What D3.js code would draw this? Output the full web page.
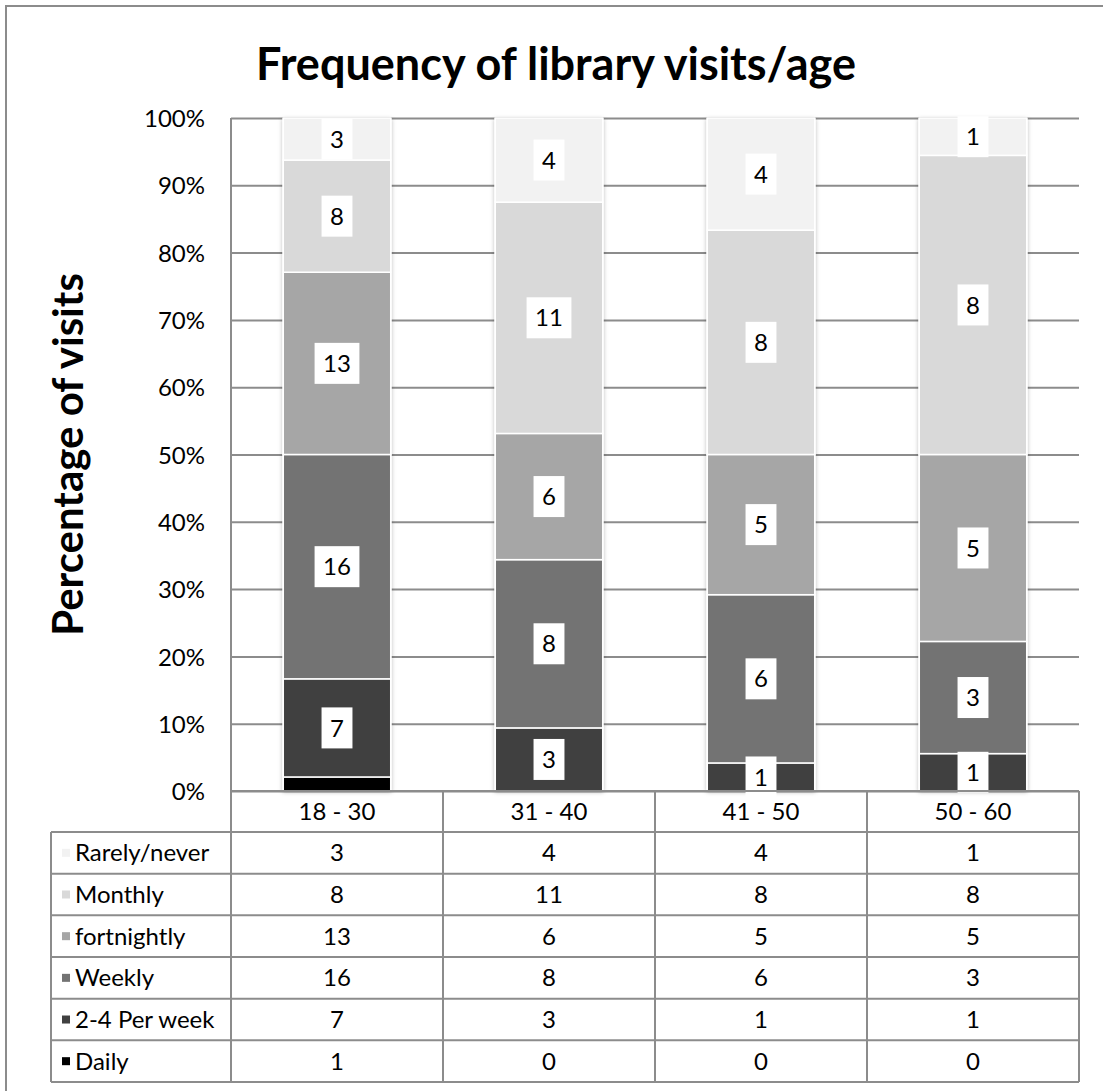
<!DOCTYPE html>
<html>
<head>
<meta charset="utf-8">
<script src="https://cdn.jsdelivr.net/npm/d3@7"></script>
<style>
  html, body { margin: 0; padding: 0; background: #fff; }
  svg { display: block; font-family: Lato, "Open Sans", sans-serif; }
</style>
</head>
<body>
<svg id="chart" width="1103" height="1091"></svg>
<script>
// Age groups along the x axis
const ageGroups = ["18 - 30", "31 - 40", "41 - 50", "50 - 60"];

// Visit frequencies (respondent counts) per age group
const seriesNames = ["Daily", "2-4 Per week", "Weekly", "fortnightly", "Monthly", "Rarely/never"];
const daily       = [1, 0, 0, 0];
const perWeek     = [7, 3, 1, 1];
const weekly      = [16, 8, 6, 3];
const fortnightly = [13, 6, 5, 5];
const monthly     = [8, 11, 8, 8];
const rarely      = [3, 4, 4, 1];

const seriesColors = ["#000000", "#404040", "#737373", "#a6a6a6", "#d9d9d9", "#f2f2f2"];
const yTicks = [0, 0.1, 0.2, 0.3, 0.4, 0.5, 0.6, 0.7, 0.8, 0.9, 1];

const seriesValues = [daily, perWeek, weekly, fortnightly, monthly, rarely];
const rows = ageGroups.map((g, i) => {
  const r = { group: g };
  seriesNames.forEach((s, k) => { r[s] = seriesValues[k][i]; });
  return r;
});

const svg = d3.select("#chart");
const plot = { left: 231, right: 1079, top: 118, bottom: 791 };
const table = { labelLeft: 51, headerH: 41, rowH: 41.67 };
const lineColor = "#8c8c8c";

// chart frame
svg.append("rect")
  .attr("x", 6).attr("y", 6).attr("width", 1300).attr("height", 1300)
  .attr("fill", "none").attr("stroke", lineColor).attr("stroke-width", 2);

// soft shadow behind bars
const defs = svg.append("defs");
const f = defs.append("filter").attr("id", "barShadow")
  .attr("x", "-10%").attr("y", "-5%").attr("width", "120%").attr("height", "110%");
f.append("feDropShadow").attr("dx", 0).attr("dy", 1).attr("stdDeviation", 2)
  .attr("flood-color", "#000").attr("flood-opacity", 0.3);

const x = d3.scaleBand().domain(ageGroups)
  .range([plot.left, plot.right]).paddingInner(0.486).paddingOuter(0.243);
const y = d3.scaleLinear().domain([0, 1]).range([plot.bottom, plot.top]);

// horizontal gridlines
svg.append("g")
  .attr("transform", `translate(${plot.left},0)`)
  .call(d3.axisLeft(y).tickValues(yTicks).tickSize(-(plot.right - plot.left)).tickFormat(""))
  .call(g => g.select(".domain").remove())
  .call(g => g.selectAll("line").attr("stroke", lineColor).attr("stroke-width", 2));

// y tick labels
svg.append("g")
  .attr("transform", `translate(${plot.left - 26},0)`)
  .call(d3.axisLeft(y).tickValues(yTicks).tickSize(0).tickPadding(0).tickFormat(d3.format(".0%")))
  .call(g => g.select(".domain").remove())
  .call(g => g.selectAll("text")
    .attr("font-family", "Lato, sans-serif").attr("font-size", 24).attr("fill", "#000")
    .attr("dy", "0.36em"));

// vertical axis line
svg.append("line")
  .attr("x1", plot.left).attr("x2", plot.left)
  .attr("y1", plot.top).attr("y2", plot.bottom)
  .attr("stroke", lineColor).attr("stroke-width", 2);

// stacked bars (100%)
const stack = d3.stack().keys(seriesNames).offset(d3.stackOffsetExpand);
const stacked = stack(rows);

const barShadows = svg.append("g").attr("filter", "url(#barShadow)");
barShadows.selectAll("rect").data(ageGroups).join("rect")
  .attr("x", d => x(d)).attr("width", x.bandwidth())
  .attr("y", y(1)).attr("height", y(0) - y(1))
  .attr("fill", "#fff");

const layers = svg.append("g").selectAll("g").data(stacked).join("g")
  .attr("fill", (d, i) => seriesColors[i]);

layers.selectAll("rect").data(d => d.map(p => ({ p, key: d.key })))
  .join("rect")
  .attr("x", d => x(d.p.data.group) + 0.75)
  .attr("width", x.bandwidth() - 1.5)
  .attr("y", d => y(d.p[1]))
  .attr("height", d => Math.max(0, y(d.p[0]) - y(d.p[1])))
  .attr("stroke", "#ffffff").attr("stroke-width", 1.5);

// data labels in white boxes (the Daily series carries none)
const labelLayer = svg.append("g");
stacked.forEach((layer) => {
  if (layer.key === "Daily") return;
  layer.forEach(p => {
    const v = p.data[layer.key];
    if (!v) return;
    const cx = x(p.data.group) + x.bandwidth() / 2;
    const cy = (y(p[0]) + y(p[1])) / 2;
    const g = labelLayer.append("g");
    const box = g.append("rect").attr("fill", "#fff");
    const t = g.append("text")
      .attr("x", cx).attr("y", cy).attr("dy", "0.36em")
      .attr("text-anchor", "middle")
      .attr("font-size", 24).attr("fill", "#000")
      .text(v);
    const w = t.node().getComputedTextLength() + 17;
    box.attr("x", cx - w / 2).attr("y", cy - 20.5).attr("width", w).attr("height", 41);
  });
});

// data table under the plot
const tableTop = plot.bottom;
const firstRowTop = tableTop + table.headerH;
const tableRows = seriesNames.slice().reverse();
const tableBottom = firstRowTop + tableRows.length * table.rowH;
const tg = svg.append("g");

// header cells (age groups)
tg.selectAll("text.hdr").data(ageGroups).join("text")
  .attr("class", "hdr")
  .attr("x", d => x(d) + x.bandwidth() / 2)
  .attr("y", tableTop + table.headerH / 2).attr("dy", "0.36em")
  .attr("text-anchor", "middle").attr("font-size", 24).attr("fill", "#000")
  .text(d => d);

// grid of the table
const colEdges = ageGroups.map(g => x(g) - x.step() * x.paddingOuter()).concat([plot.right]);
colEdges.forEach((cx) => {
  tg.append("line")
    .attr("x1", cx).attr("x2", cx)
    .attr("y1", tableTop).attr("y2", tableBottom)
    .attr("stroke", lineColor).attr("stroke-width", 2);
});
tg.append("line")
  .attr("x1", table.labelLeft).attr("x2", table.labelLeft)
  .attr("y1", firstRowTop).attr("y2", tableBottom)
  .attr("stroke", lineColor).attr("stroke-width", 2);
tg.append("line")
  .attr("x1", plot.left).attr("x2", plot.right)
  .attr("y1", tableTop).attr("y2", tableTop)
  .attr("stroke", lineColor).attr("stroke-width", 2);
d3.range(tableRows.length + 1).forEach(i => {
  const ry = firstRowTop + i * table.rowH;
  tg.append("line")
    .attr("x1", table.labelLeft).attr("x2", plot.right)
    .attr("y1", ry).attr("y2", ry)
    .attr("stroke", lineColor).attr("stroke-width", 2);
});

// legend keys, row labels and values
tableRows.forEach((name, r) => {
  const cy = firstRowTop + r * table.rowH + table.rowH / 2;
  const k = seriesNames.indexOf(name);
  tg.append("rect")
    .attr("x", table.labelLeft + 11).attr("y", cy - 4)
    .attr("width", 8).attr("height", 8)
    .attr("fill", seriesColors[k]);
  tg.append("text")
    .attr("x", table.labelLeft + 24).attr("y", cy).attr("dy", "0.36em")
    .attr("font-size", 24).attr("fill", "#000")
    .text(name);
  ageGroups.forEach((g, i) => {
    tg.append("text")
      .attr("x", x(g) + x.bandwidth() / 2).attr("y", cy).attr("dy", "0.36em")
      .attr("text-anchor", "middle").attr("font-size", 24).attr("fill", "#000")
      .text(seriesValues[k][i]);
  });
});

// titles
svg.append("text")
  .attr("x", 556).attr("y", 80)
  .attr("text-anchor", "middle")
  .attr("font-size", 45).attr("font-weight", "bold").attr("fill", "#000")
  .text("Frequency of library visits/age");

svg.append("text")
  .attr("transform", `translate(83,${(plot.top + plot.bottom) / 2}) rotate(-90)`)
  .attr("text-anchor", "middle")
  .attr("font-size", 42).attr("font-weight", "bold").attr("fill", "#000")
  .text("Percentage of visits");
</script>
</body>
</html>
